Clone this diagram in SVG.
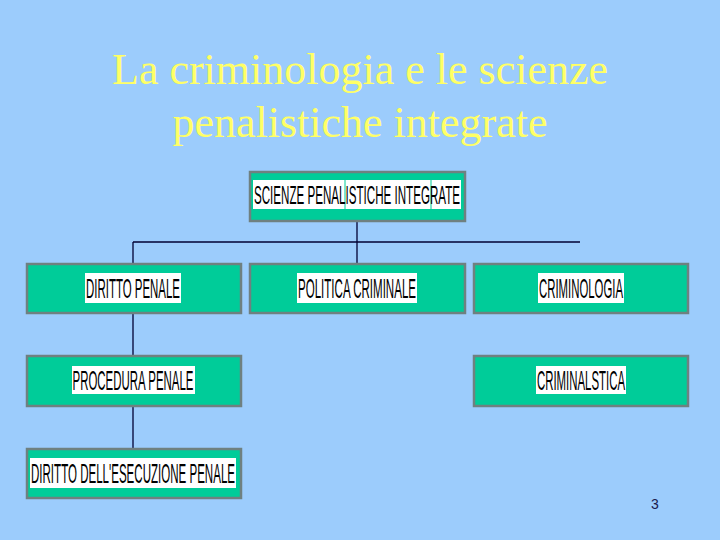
<svg xmlns="http://www.w3.org/2000/svg" width="720" height="540" viewBox="0 0 720 540">
<style>
.box{fill:#00CC99;stroke:#6F8080;stroke-width:2.5}
.lbl{fill:#FFFFFF}
.t{font-family:"Liberation Sans",Arial,sans-serif;fill:#000000;text-anchor:middle}
.title{font-family:"Liberation Serif","Times New Roman",serif;font-size:44px;fill:#FFFF66;text-anchor:middle}
.con{stroke:#000033;stroke-width:1.3;fill:none}
</style>
<rect width="720" height="540" fill="#9CCCFC"/>
<text class="title" x="360" y="84">La criminologia e le scienze</text>
<text class="title" x="360" y="137">penalistiche integrate</text>
<g id="connectors">
<line class="con" x1="357" y1="221" x2="357" y2="264"/>
<line class="con" x1="133" y1="242" x2="580" y2="242"/>
<line class="con" x1="133" y1="242" x2="133" y2="264"/>
<line class="con" x1="133" y1="313" x2="133" y2="356"/>
<line class="con" x1="133" y1="406" x2="133" y2="449"/>
</g>
<g id="scienze">
<rect class="box" x="250" y="172" width="215" height="49"/>
<rect class="lbl" x="253" y="180" width="208" height="29"/>
<line x1="345" y1="180" x2="345" y2="209" stroke="#00CC99" stroke-width="1"/>
<line x1="431" y1="180" x2="431" y2="209" stroke="#00CC99" stroke-width="1"/>
<text class="t" x="357" y="204" font-size="26" textLength="206" lengthAdjust="spacingAndGlyphs">SCIENZE PENALISTICHE INTEGRATE</text>
</g>
<g id="diritto">
<rect class="box" x="27" y="264" width="214" height="49"/>
<rect class="lbl" x="85" y="273" width="96" height="30"/>
<text class="t" x="133" y="298" font-size="28" textLength="94" lengthAdjust="spacingAndGlyphs">DIRITTO PENALE</text>
</g>
<g id="politica">
<rect class="box" x="250" y="264" width="215" height="49"/>
<rect class="lbl" x="297" y="273" width="120" height="30"/>
<text class="t" x="357" y="298" font-size="28" textLength="118" lengthAdjust="spacingAndGlyphs">POLITICA CRIMINALE</text>
</g>
<g id="criminologia">
<rect class="box" x="474" y="264" width="214" height="49"/>
<rect class="lbl" x="538" y="273" width="86" height="30"/>
<text class="t" x="581" y="298" font-size="28" textLength="84" lengthAdjust="spacingAndGlyphs">CRIMINOLOGIA</text>
</g>
<g id="procedura">
<rect class="box" x="27" y="356" width="214" height="50"/>
<rect class="lbl" x="72" y="366" width="123" height="28"/>
<text class="t" x="133" y="390" font-size="28" textLength="121" lengthAdjust="spacingAndGlyphs">PROCEDURA PENALE</text>
</g>
<g id="criminalstica">
<rect class="box" x="474" y="356" width="214" height="50"/>
<rect class="lbl" x="536" y="366" width="90" height="28"/>
<text class="t" x="581" y="390" font-size="28" textLength="88" lengthAdjust="spacingAndGlyphs">CRIMINALSTICA</text>
</g>
<g id="esecuzione">
<rect class="box" x="27" y="449" width="214" height="49"/>
<rect class="lbl" x="30" y="458" width="206" height="30"/>
<text class="t" x="133" y="483" font-size="28" textLength="204" lengthAdjust="spacingAndGlyphs">DIRITTO DELL'ESECUZIONE PENALE</text>
</g>
<text x="655" y="509" font-family="'Liberation Sans',Arial,sans-serif" font-size="14" fill="#1A1A4D" text-anchor="middle">3</text>
</svg>
